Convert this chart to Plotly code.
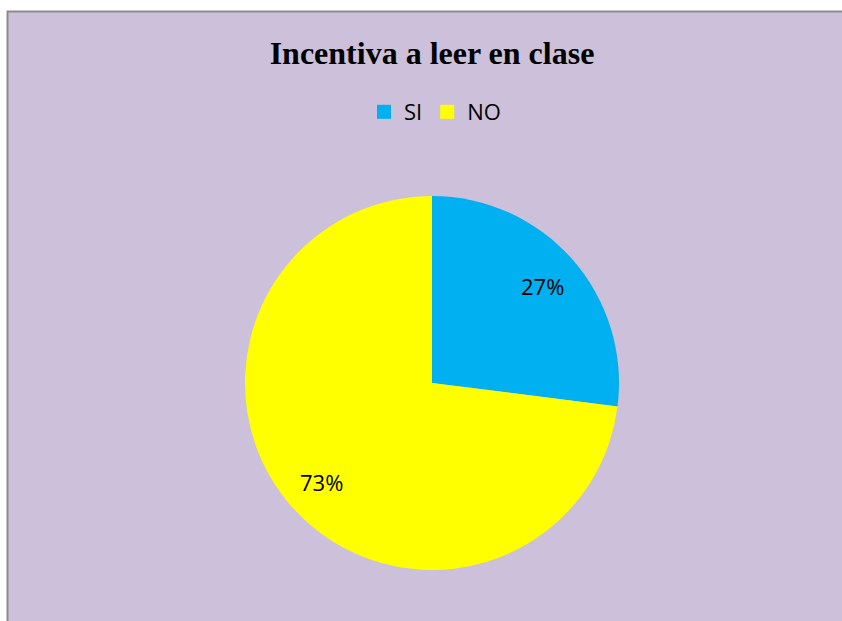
import math
import plotly.graph_objects as go

labels = ["SI", "NO"]
values = [27, 73]
colors = ["#00B0F0", "#FFFF00"]
title_text = "Incentiva a leer en clase"

W, H = 842, 621
cx, cy, R = 432, 383, 187

fig = go.Figure()
fig.add_trace(go.Pie(
    labels=labels, values=values, sort=False, direction="clockwise", rotation=0,
    marker=dict(colors=colors, line=dict(width=0)),
    textinfo="none", hoverinfo="label+percent",
    domain=dict(x=[(cx - R) / W, (cx + R) / W], y=[1 - (cy + R) / H, 1 - (cy - R) / H]),
    showlegend=False,
))

# legend entries as square markers
for lab, col in zip(labels, colors):
    fig.add_trace(go.Scatter(x=[None], y=[None], mode="markers", name=lab,
                             marker=dict(symbol="square", size=14, color=col)))

# percentage labels placed along the mid-angle of each slice
total = sum(values)
acc = 0
annotations = []
for v in values:
    mid = (acc + v / 2) / total * 2 * math.pi
    acc += v
    r = 0.79 * R
    px = cx + r * math.sin(mid)
    py = cy - r * math.cos(mid) + 1
    annotations.append(dict(x=px / W, y=1 - py / H, xref="paper", yref="paper",
                            xanchor="center", yanchor="middle",
                            text=f"{round(v / total * 100)}%", showarrow=False,
                            font=dict(family="Open Sans", size=22, color="black")))

x0p, y1p = 7.5 / W, 1 - 11.5 / H
fig.update_layout(
    width=W, height=H,
    margin=dict(l=0, r=0, t=0, b=0),
    paper_bgcolor="#CCC0DA", plot_bgcolor="rgba(0,0,0,0)",
    xaxis=dict(visible=False), yaxis=dict(visible=False),
    title=dict(text="<b>" + title_text + "</b>", x=432 / W, xanchor="center",
               y=1 - 53 / H, yanchor="middle",
               font=dict(family="Liberation Serif", size=32, color="black")),
    legend=dict(orientation="h", x=364 / W, xanchor="left", y=1 - 112 / H, yanchor="middle",
                font=dict(family="Open Sans", size=22, color="black"),
                bgcolor="rgba(0,0,0,0)", itemwidth=30, tracegroupgap=0),
    annotations=annotations,
    shapes=[
        # white strips outside the chart frame
        dict(type="rect", xref="paper", yref="paper", layer="below",
             x0=0, x1=1, y0=y1p, y1=1, fillcolor="white", line=dict(width=0)),
        dict(type="rect", xref="paper", yref="paper", layer="below",
             x0=0, x1=x0p, y0=0, y1=1, fillcolor="white", line=dict(width=0)),
        dict(type="path", xref="paper", yref="paper", layer="below",
             path=f"M {x0p},0 L {x0p},{y1p} L 1,{y1p}",
             line=dict(color="#8C8C8C", width=2)),
    ],
)

fig.write_html(
    "out.html",
    config={"displayModeBar": False, "responsive": False},
    post_script=(
        "document.documentElement.style.overflow='hidden';"
        "document.documentElement.style.background='#CCC0DA';"
        "document.body.style.margin='0';document.body.style.overflow='hidden';"
        "document.body.style.background='#CCC0DA';"
    ),
)
